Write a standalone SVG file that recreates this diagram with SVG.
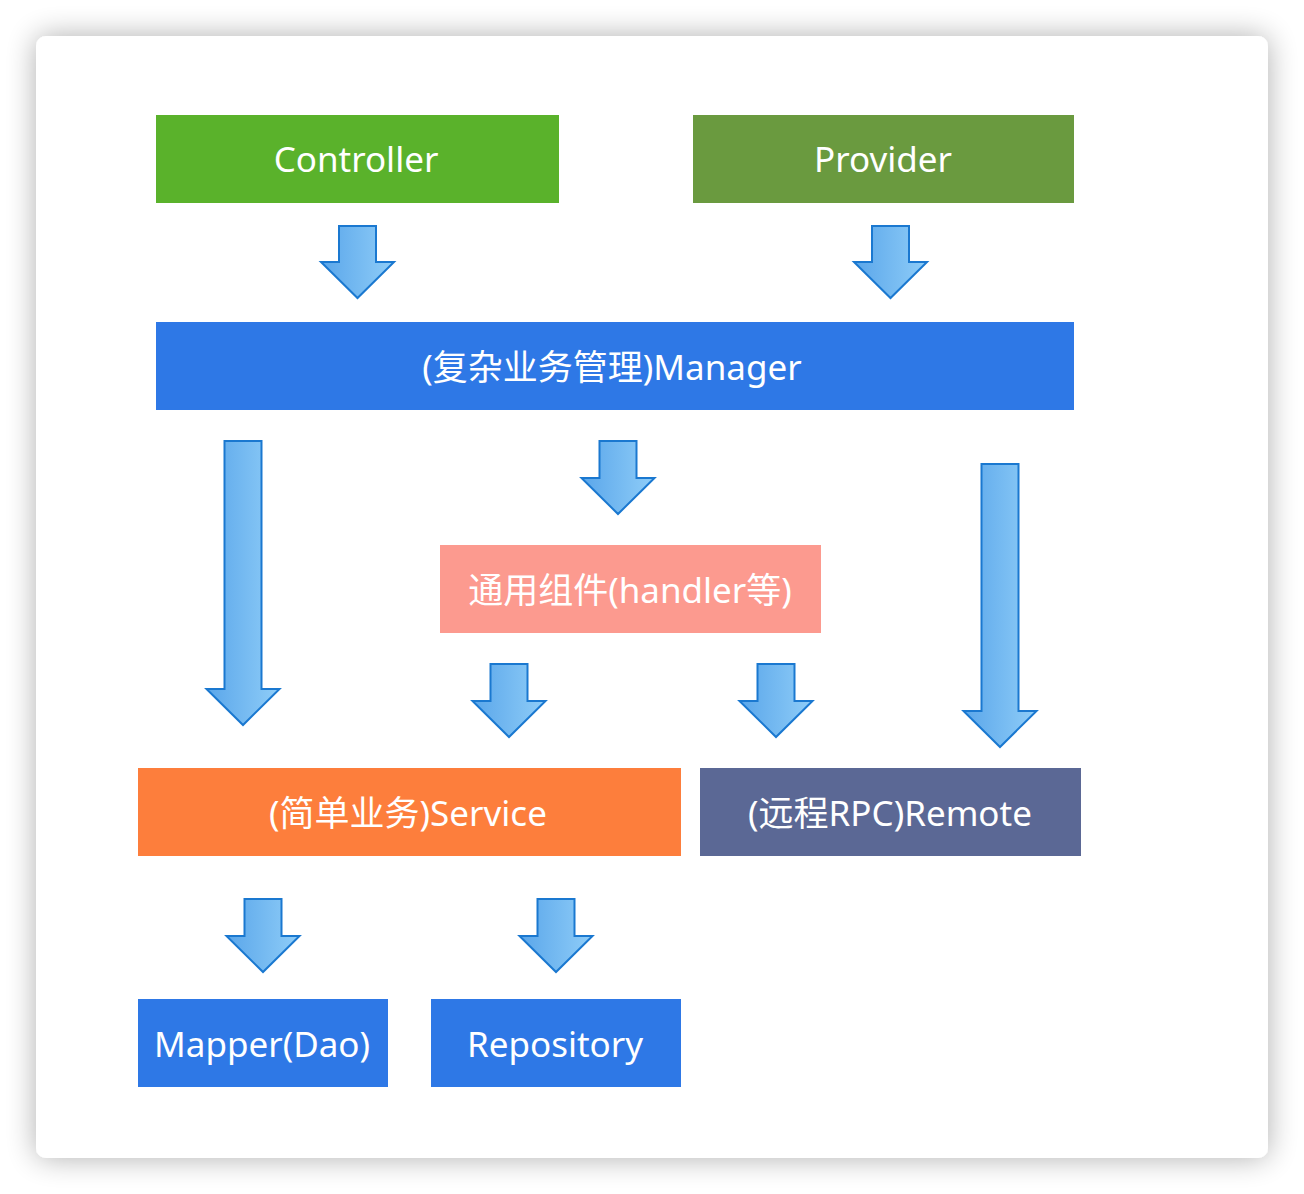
<svg xmlns="http://www.w3.org/2000/svg" width="1304" height="1194" viewBox="0 0 1304 1194">
<defs>
<filter id="shadow" x="-10%" y="-10%" width="120%" height="120%">
<feGaussianBlur in="SourceAlpha" stdDeviation="15"/>
<feOffset dx="0" dy="0"/>
<feComponentTransfer><feFuncA type="linear" slope="0.32"/></feComponentTransfer>
<feMerge><feMergeNode/><feMergeNode in="SourceGraphic"/></feMerge>
</filter>
<linearGradient id="ag" x1="0" y1="0" x2="1" y2="0">
<stop offset="0" stop-color="#5aa6ea"/>
<stop offset="1" stop-color="#8fcdf8"/>
</linearGradient>
<style>
.lbl{font-family:"Noto Sans","Noto Sans CJK SC",sans-serif;font-size:35px;fill:#ffffff;text-anchor:middle;dominant-baseline:central}
.arr{fill:url(#ag);stroke:#1a78d0;stroke-width:2;stroke-linejoin:miter}
</style>
</defs>
<rect width="1304" height="1194" fill="#ffffff"/>
<rect x="36" y="36" width="1232" height="1122" rx="10" fill="#ffffff" filter="url(#shadow)"/>
<g id="controller"><rect x="156" y="115" width="403" height="88" fill="#5ab22b"/><text class="lbl" x="356" y="158">Controller</text></g>
<g id="provider"><rect x="693" y="115" width="381" height="88" fill="#6a9a3f"/><text class="lbl" x="883" y="158">Provider</text></g>
<g id="manager"><rect x="156" y="322" width="918" height="88" fill="#2e78e6"/><text class="lbl" x="612" y="366">(复杂业务管理)Manager</text></g>
<g id="handler"><rect x="440" y="545" width="381" height="88" fill="#fc9a8f"/><text class="lbl" x="630" y="589">通用组件(handler等)</text></g>
<g id="service"><rect x="138" y="768" width="543" height="88" fill="#fd7e3c"/><text class="lbl" x="408" y="812">(简单业务)Service</text></g>
<g id="remote"><rect x="700" y="768" width="381" height="88" fill="#5b6895"/><text class="lbl" x="890" y="812">(远程RPC)Remote</text></g>
<g id="mapper"><rect x="138" y="999" width="250" height="88" fill="#2e78e6"/><text class="lbl" x="262" y="1043">Mapper(Dao)</text></g>
<g id="repository"><rect x="431" y="999" width="250" height="88" fill="#2e78e6"/><text class="lbl" x="555" y="1043">Repository</text></g>
<g id="connectors">
<path class="arr" d="M339,226 H376 V262 H394 L357.5,298 L321,262 H339 Z"/>
<path class="arr" d="M872,226 H909 V262 H927 L890.5,298 L854,262 H872 Z"/>
<path class="arr" d="M224.5,441 H261.5 V689 H279.5 L243,725 L206.5,689 H224.5 Z"/>
<path class="arr" d="M599.5,441 H636.5 V478 H654.5 L618,514 L581.5,478 H599.5 Z"/>
<path class="arr" d="M981.5,464 H1018.5 V711 H1036.5 L1000,747 L963.5,711 H981.5 Z"/>
<path class="arr" d="M490.5,664 H527.5 V701 H545.5 L509,737 L472.5,701 H490.5 Z"/>
<path class="arr" d="M757.5,664 H794.5 V701 H812.5 L776,737 L739.5,701 H757.5 Z"/>
<path class="arr" d="M244.5,899 H281.5 V936 H299.5 L263,972 L226.5,936 H244.5 Z"/>
<path class="arr" d="M537.5,899 H574.5 V936 H592.5 L556,972 L519.5,936 H537.5 Z"/>
</g>
</svg>
